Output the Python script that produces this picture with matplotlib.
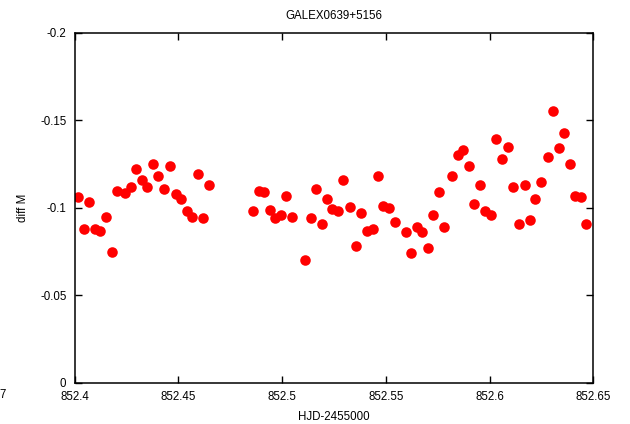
import matplotlib
matplotlib.use("Agg")
import matplotlib.pyplot as plt

plt.rcParams['font.family'] = ['Liberation Sans', 'DejaVu Sans']

# HJD-2455000 and differential magnitude
hjd = [852.4017, 852.4045, 852.4070, 852.4098, 852.4124, 852.4151, 852.4178,
       852.4202, 852.4244, 852.4271, 852.4296, 852.4323, 852.4350, 852.4377,
       852.4403, 852.4429, 852.4461, 852.4487, 852.4514, 852.4541, 852.4567,
       852.4593, 852.4619, 852.4646,
       852.4861, 852.4887, 852.4914, 852.4941, 852.4967, 852.4994, 852.5020,
       852.5046, 852.5112, 852.5138, 852.5163, 852.5191, 852.5216, 852.5242,
       852.5271, 852.5295, 852.5329, 852.5356, 852.5382, 852.5409, 852.5437,
       852.5462, 852.5488, 852.5515, 852.5543, 852.5596, 852.5623, 852.5649,
       852.5676, 852.5702, 852.5729, 852.5755, 852.5780, 852.5820, 852.5846,
       852.5872, 852.5899, 852.5925, 852.5952, 852.5978, 852.6005, 852.6032,
       852.6061, 852.6089, 852.6114, 852.6142, 852.6169, 852.6195, 852.6220,
       852.6248, 852.6280, 852.6307, 852.6335, 852.6360, 852.6388, 852.6413,
       852.6441, 852.6466]
dmag = [-0.1059, -0.0878, -0.1031, -0.0878, -0.0869, -0.0949, -0.0749,
        -0.1097, -0.1082, -0.1120, -0.1219, -0.1158, -0.1120, -0.1250,
        -0.1181, -0.1109, -0.1240, -0.1078, -0.1048, -0.0979, -0.0949,
        -0.1191, -0.0939, -0.1130,
        -0.0979, -0.1097, -0.1088, -0.0989, -0.0939, -0.0958, -0.1069,
        -0.0949, -0.0699, -0.0939, -0.1109, -0.0909, -0.1050, -0.0991,
        -0.0979, -0.1158, -0.1006, -0.0779, -0.0970, -0.0869, -0.0878,
        -0.1179, -0.1010, -0.1000, -0.0920, -0.0859, -0.0739, -0.0888,
        -0.0859, -0.0770, -0.0958, -0.1090, -0.0888, -0.1181, -0.1299,
        -0.1330, -0.1240, -0.1019, -0.1130, -0.0979, -0.0958, -0.1391,
        -0.1278, -0.1349, -0.1120, -0.0909, -0.1130, -0.0930, -0.1050,
        -0.1149, -0.1289, -0.1551, -0.1339, -0.1429, -0.1250, -0.1069,
        -0.1059, -0.0909]

xticks = [852.4, 852.45, 852.5, 852.55, 852.6, 852.65]
xticklabels = ['852.4', '852.45', '852.5', '852.55', '852.6', '852.65']
yticks = [-0.2, -0.15, -0.1, -0.05, 0]
yticklabels = ['-0.2', '-0.15', '-0.1', '-0.05', '0']

fig = plt.figure(figsize=(6.3, 4.24), dpi=100)
ax = fig.add_axes([0.1186, 0.0974, 0.8231, 0.8255])

ax.plot(hjd, dmag, 'o', color='#ff0000', markersize=7.6, markeredgewidth=0)

ax.set_xlim(852.4, 852.65)
ax.set_ylim(0, -0.2)
ax.set_xticks(xticks)
ax.set_xticklabels(xticklabels)
ax.set_yticks(yticks)
ax.set_yticklabels(yticklabels)
ax.tick_params(direction='in', length=5, width=1, labelsize=8.3,
               top=True, right=True, pad=6)
for s in ax.spines.values():
    s.set_linewidth(1.1)

ax.set_title('GALEX0639+5156', fontsize=8.3, pad=10)
ax.set_xlabel('HJD-2455000', fontsize=8.3, labelpad=6)
ax.set_ylabel('diff M', fontsize=8.3, labelpad=8)

# stray tick label at the left edge
fig.text(0.004, 1 - 395 / 424, '7', fontsize=8.3, ha='center', va='center')

fig.savefig('out.png', dpi=100)
